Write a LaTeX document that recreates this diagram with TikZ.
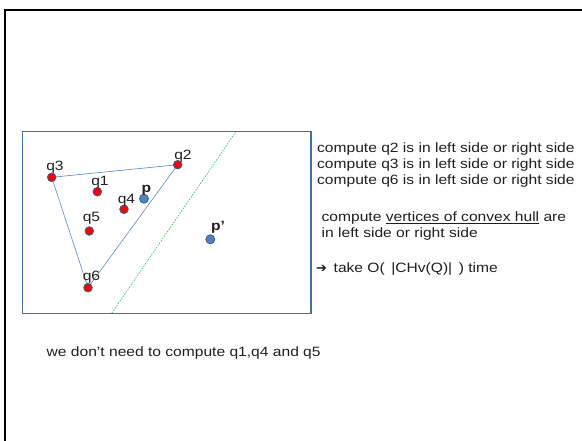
\documentclass[tikz,border=0pt]{standalone}
\usepackage{fontspec}
\setmainfont{Liberation Sans}[FakeStretch=1.155]
\newfontfamily\symfont{DejaVu Sans}
\usetikzlibrary{backgrounds}

\definecolor{boxblue}{HTML}{41719C}
\definecolor{hullblue}{HTML}{5B8BC9}
\definecolor{ptblue}{HTML}{4F81BD}
\definecolor{ptedge}{HTML}{385D8A}
\definecolor{sepgreen}{HTML}{3CC878}
\definecolor{ink}{HTML}{1E1E1E}

\tikzset{
  redpt/.style={circle, fill=red, draw=ptedge, line width=0.9pt, inner sep=0pt, minimum size=8.5pt},
  bluept/.style={circle, fill=ptblue, draw=ptedge, line width=0.8pt, inner sep=0pt, minimum size=9pt},
  lab/.style={inner sep=0pt, text=ink, font=\fontsize{13.5}{15}\selectfont},
  boldlab/.style={lab, font=\fontsize{13.5}{15}\selectfont\bfseries},
  txt/.style={inner sep=0pt, anchor=base west, text=ink, font=\fontsize{13.5}{16}\selectfont},
  hull/.style={draw=hullblue, line width=0.6pt},
  sepline/.style={draw=sepgreen, line width=0.7pt, dash pattern=on 1.6pt off 1.2pt},
}

\begin{document}
\begin{tikzpicture}[x=1pt, y=-1pt]
  \useasboundingbox (0,0) rectangle (582,440);

  % page frame (top and left edges)
  \draw[line width=2pt, black] (5,441) -- (5,9.5) -- (583,9.5);

  % plane region
  \draw[boxblue, line width=1.5pt] (22.5,131.5) rectangle (311,313.5);

  % point set Q and query points
  \node[redpt] (q3) at (51.7,177.3) {};
  \node[redpt] (q2) at (177.7,164.7) {};
  \node[redpt] (q1) at (97.3,191.7) {};
  \node[redpt] (q4) at (124,209.3) {};
  \node[redpt] (q5) at (89.3,231) {};
  \node[redpt] (q6) at (88,287.7) {};
  \node[bluept] (p) at (144,198.7) {};
  \node[bluept] (pp) at (210.3,239.3) {};

  % convex hull of Q and the separating line
  \coordinate (s1) at (236,131.5);
  \coordinate (s2) at (111.5,313.5);
  \begin{scope}[on background layer]
    \draw[hull] (q3.center) -- (q2.center) -- (q6.center) -- cycle;
    \draw[sepline] (s1) -- (s2);
  \end{scope}

  % point labels
  \node[lab] (lq3) at (55,167.5) {q3};
  \node[lab] (lq2) at (183,156) {q2};
  \node[lab] (lq1) at (100,182) {q1};
  \node[lab] (lq4) at (126.5,200) {q4};
  \node[lab] (lq5) at (91.5,218) {q5};
  \node[lab] (lq6) at (91.5,277) {q6};
  \node[boldlab] (lp) at (146.5,190) {p};
  \node[boldlab] (lpp) at (218,227) {p’};

  % explanation
  \node[txt] (t1) at (317,152) {compute q2 is in left side or right side};
  \node[txt] (t2) at (317,168) {compute q3 is in left side or right side};
  \node[txt] (t3) at (317,184) {compute q6 is in left side or right side};
  \node[txt] (t4) at (321.5,221.5) {compute \underline{vertices of convex hull} are};
  \node[txt] (t5) at (321.5,237.5) {in left side or right side};
  \node[txt] (t6) at (316,272.5) {{\symfont\bfseries\fontsize{13}{16}\selectfont ➔}\, take O(\, |CHv(Q)|\, ) time};
  \node[txt] (t7) at (46.5,356) {we don’t need to compute q1,q4 and q5};
\end{tikzpicture}
\end{document}
